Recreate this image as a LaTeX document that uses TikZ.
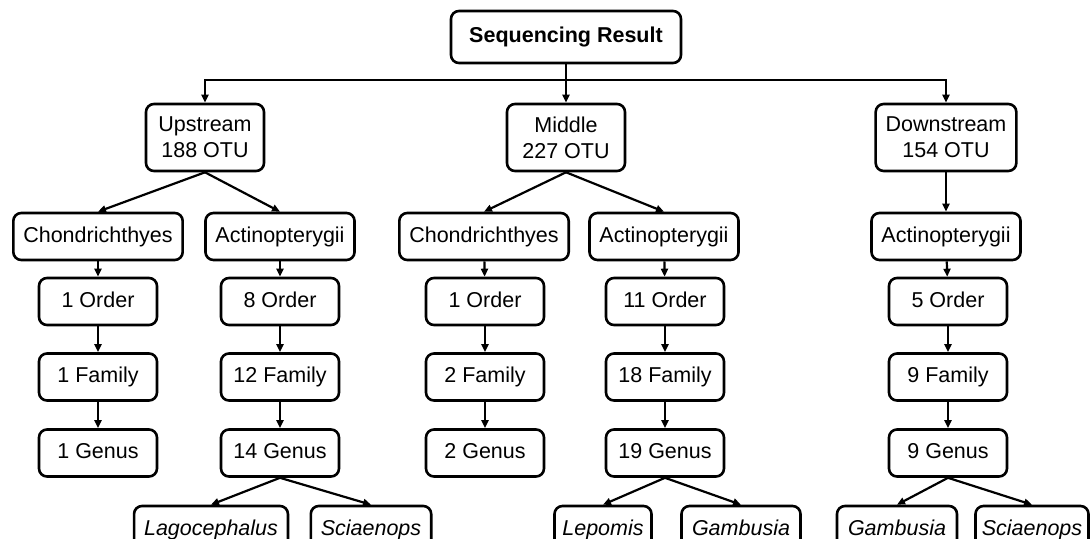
\documentclass[tikz,border=0pt]{standalone}
\usepackage{fontspec}
\setmainfont{Liberation Sans}
\usetikzlibrary{positioning}
\usetikzlibrary{arrows.meta}

\tikzset{
	box/.style = {draw, line width = 2.6pt, rounded corners = 8pt, minimum width = 118pt, minimum height = 47pt, inner xsep = 10pt, text height = 15.5pt, text depth = 4.5pt, align = center, font = \fontsize{21.5}{26}\selectfont},
	tall/.style = {minimum height = 67pt, text height = {}, text depth = {}},
	genus/.style = {font = \fontsize{21.5}{26}\selectfont\itshape, minimum width = 0pt},
	arr/.style = {line width = 2.2pt, -{Triangle[length = 8pt, width = 7pt]}}
}

\begin{document}
\begin{tikzpicture}[x = 1pt, y = -1pt]
				\useasboundingbox (0, 0) rectangle (1091, 538);
				\node[box, minimum width = 230pt, minimum height = 52pt, font = \fontsize{21.5}{26}\selectfont\bfseries] (seq) at (566, 37) {Sequencing Result};
				\node[box, tall] (up) at (205, 137.5) {Upstream\\188 OTU};
				\node[box, tall] (mid) at (566, 137.5) {Middle\\227 OTU};
				\node[box, tall] (down) at (946, 137.5) {Downstream\\154 OTU};
				\node[box] (chonU) at (98, 236.5) {Chondrichthyes};
				\node[box] (actU) at (280, 236.5) {Actinopterygii};
				\node[box] (chonM) at (484, 236.5) {Chondrichthyes};
				\node[box] (actM) at (664, 236.5) {Actinopterygii};
				\node[box] (actD) at (946, 236.5) {Actinopterygii};
				\node[box] (ordA) at (98, 301.5) {1 Order};
				\node[box] (famA) at (98, 377) {1 Family};
				\node[box] (genA) at (98, 453) {1 Genus};
				\node[box] (ordB) at (280, 301.5) {8 Order};
				\node[box] (famB) at (280, 377) {12 Family};
				\node[box] (genB) at (280, 453) {14 Genus};
				\node[box] (ordC) at (485, 301.5) {1 Order};
				\node[box] (famC) at (485, 377) {2 Family};
				\node[box] (genC) at (485, 453) {2 Genus};
				\node[box] (ordD) at (665, 301.5) {11 Order};
				\node[box] (famD) at (665, 377) {18 Family};
				\node[box] (genD) at (665, 453) {19 Genus};
				\node[box] (ordE) at (948, 301.5) {5 Order};
				\node[box] (famE) at (948, 377) {9 Family};
				\node[box] (genE) at (948, 453) {9 Genus};
				\node[box, genus] (lago) at (211, 529.5) {Lagocephalus};
				\node[box, genus, minimum width = 118pt] (sciaU) at (371, 529.5) {Sciaenops};
				\node[box, genus, minimum width = 97pt, inner xsep = 6pt] (lepo) at (603, 529.5) {Lepomis};
				\node[box, genus, minimum width = 119pt] (gambM) at (741, 529.5) {Gambusia};
				\node[box, genus, minimum width = 120pt] (gambD) at (897, 529.5) {Gambusia};
				\node[box, genus, minimum width = 113pt, inner xsep = 6pt] (sciaD) at (1032, 529.5) {Sciaenops};
				\coordinate (bus) at (566, 80);
				\draw[arr] (seq.south) -- (mid.north);
				\draw[arr] (bus) -| (up.north);
				\draw[arr] (bus) -| (down.north);
				\draw[arr] (up.south) -- (chonU.north);
				\draw[arr] (up.south) -- (actU.north);
				\draw[arr] (mid.south) -- (chonM.north);
				\draw[arr] (mid.south) -- (actM.north);
				\draw[arr] (down.south) -- (actD.north);
				\draw[arr] (chonU) -- (ordA); \draw[arr] (ordA) -- (famA); \draw[arr] (famA) -- (genA);
				\draw[arr] (actU) -- (ordB); \draw[arr] (ordB) -- (famB); \draw[arr] (famB) -- (genB);
				\draw[arr] (chonM) -- (ordC); \draw[arr] (ordC) -- (famC); \draw[arr] (famC) -- (genC);
				\draw[arr] (actM) -- (ordD); \draw[arr] (ordD) -- (famD); \draw[arr] (famD) -- (genD);
				\draw[arr] (actD) -- (ordE); \draw[arr] (ordE) -- (famE); \draw[arr] (famE) -- (genE);
				\draw[arr] (genB.south) -- (lago.north);
				\draw[arr] (genB.south) -- (sciaU.north);
				\draw[arr] (genD.south) -- (lepo.north);
				\draw[arr] (genD.south) -- (gambM.north);
				\draw[arr] (genE.south) -- (gambD.north);
				\draw[arr] (genE.south) -- (sciaD.north);
			\end{tikzpicture}
\end{document}
